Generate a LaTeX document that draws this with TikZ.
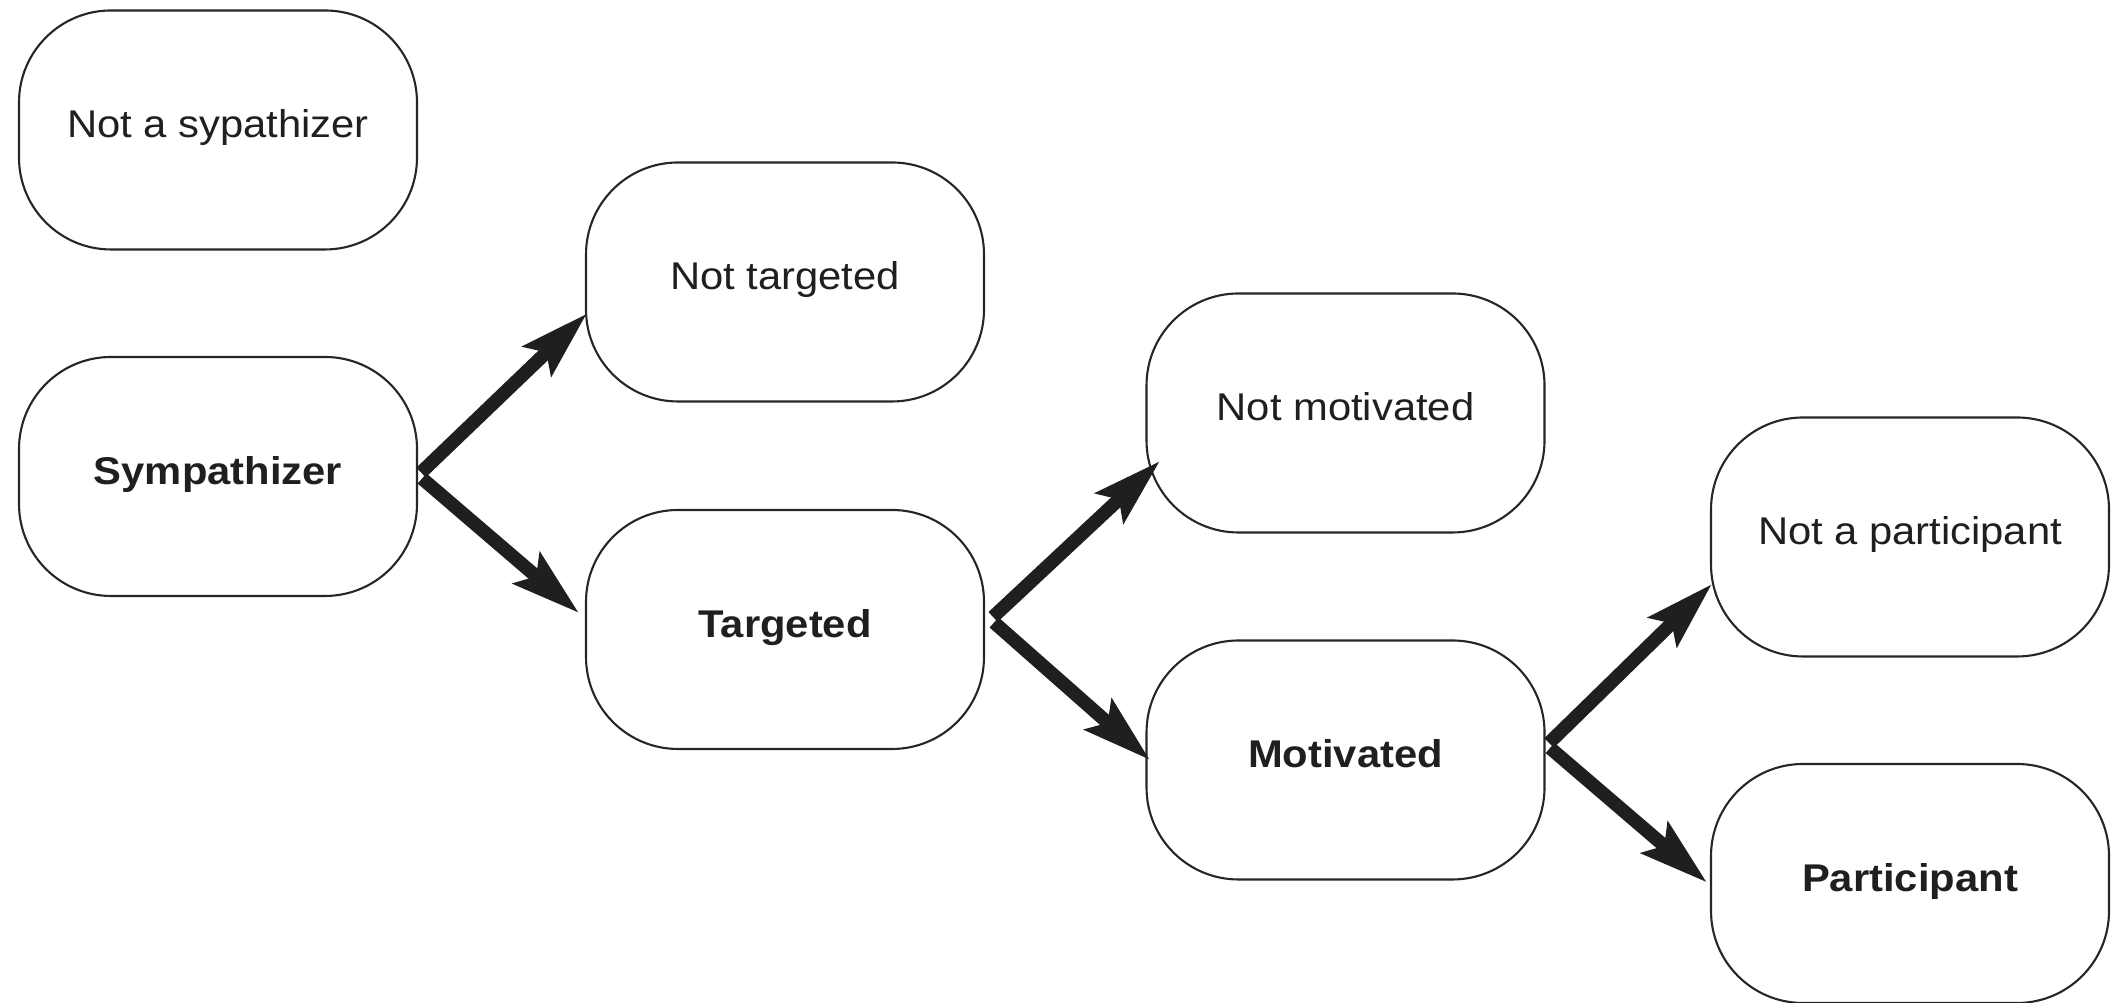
\documentclass[tikz,border=0pt]{standalone}
\usepackage{fontspec}
\setmainfont[FakeStretch=1.08]{Liberation Sans}
\usetikzlibrary{arrows.meta}
\begin{document}
\begin{tikzpicture}[
  box/.style={draw=black!85, line width=0.6pt, rounded corners=0.92cm,
    minimum width=3.98cm, minimum height=2.39cm, inner sep=0pt, align=center,
    text height=0.73em, text depth=0.3em, font=\fontsize{11}{13}\selectfont, text=black!88},
  bbox/.style={box, font=\fontsize{11}{13}\selectfont\bfseries},
  flow/.style={-{Stealth[length=0.68cm, width=0.40cm, inset=0.12cm]},
    line width=0.135cm, draw=black!88, fill=black!88}
]
\useasboundingbox (0,0) rectangle (21.11,10.03);
% boxes
\node[box]  (nsym) at (2.18,8.73)   {Not a sypathizer};
\node[bbox] (sym)  at (2.18,5.265)  {Sympathizer};
\node[box]  (ntar) at (7.85,7.21)   {Not targeted};
\node[bbox] (tar)  at (7.85,3.735)  {Targeted};
\node[box]  (nmot) at (13.455,5.90) {Not motivated};
\node[bbox] (mot)  at (13.455,2.43) {Motivated};
\node[box]  (npar) at (19.10,4.66)  {Not a participant};
\node[bbox] (par)  at (19.10,1.195) {Participant};
% junction and tip coordinates
\coordinate (j1u) at ([shift={(0.03,0.04)}]sym.east);
\coordinate (j1d) at ([shift={(0.04,-0.02)}]sym.east);
\coordinate (t1u) at ([shift={(0.02,0.89)}]ntar.south west);
\coordinate (t1d) at ([shift={(-0.06,0.165)}]tar.west);
\coordinate (j2u) at ([shift={(0.08,0.125)}]tar.east);
\coordinate (j2d) at ([shift={(0.09,0.07)}]tar.east);
\coordinate (t2u) at ([shift={(0.145,0.725)}]nmot.south west);
\coordinate (t2d) at ([shift={(0.045,0)}]mot.west);
\coordinate (j3u) at ([shift={(0.035,0.17)}]mot.east);
\coordinate (j3d) at ([shift={(0.045,0.12)}]mot.east);
\coordinate (t3u) at ([shift={(0.02,0.735)}]npar.south west);
\coordinate (t3d) at ([shift={(-0.03,0.01)}]par.west);
% connectors
\draw[flow] (j1u) -- (t1u);
\draw[flow] (j1d) -- (t1d);
\draw[flow] (j2u) -- (t2u);
\draw[flow] (j2d) -- (t2d);
\draw[flow] (j3u) -- (t3u);
\draw[flow] (j3d) -- (t3d);
\end{tikzpicture}
\end{document}
